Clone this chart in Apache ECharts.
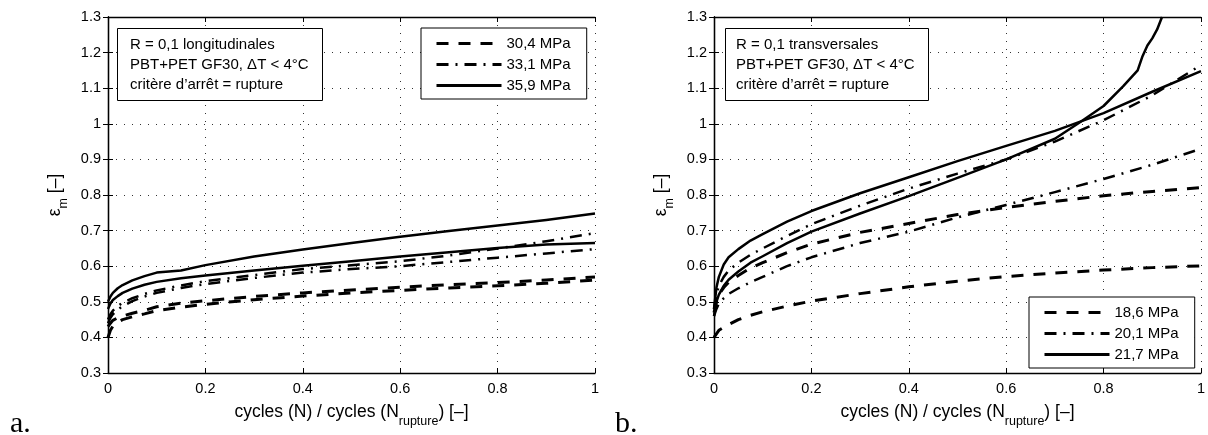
<!DOCTYPE html>
<html>
<head>
<meta charset="utf-8">
<script src="https://cdn.jsdelivr.net/npm/echarts@6/dist/echarts.min.js"></script>
<style>
html,body{margin:0;padding:0;background:#fff;}
#c{width:1208px;height:435px;}
</style>
</head>
<body>
<div id="c"></div>
<script>
// ---------- DATA ----------
const xTicks = [0, 0.2, 0.4, 0.6, 0.8, 1];
const xTickLabels = ['0', '0.2', '0.4', '0.6', '0.8', '1'];
const yTickLabels = ['0.3', '0.4', '0.5', '0.6', '0.7', '0.8', '0.9', '1', '1.1', '1.2', '1.3'];

// panel a (longitudinales)
const legendA = ['30,4 MPa', '33,1 MPa', '35,9 MPa'];
const xA = [0, 0.005, 0.01, 0.02, 0.03, 0.05, 0.075, 0.1, 0.15, 0.2, 0.3, 0.4, 0.5, 0.6, 0.7, 0.8, 0.9, 1.0];
const a304_1 = [0.43, 0.44, 0.448, 0.455, 0.46, 0.468, 0.476, 0.486, 0.496, 0.503, 0.515, 0.525, 0.533, 0.541, 0.548, 0.554, 0.561, 0.570];
const a304_2 = [0.40, 0.42, 0.432, 0.443, 0.45, 0.458, 0.466, 0.475, 0.485, 0.493, 0.506, 0.516, 0.525, 0.532, 0.539, 0.545, 0.552, 0.561];
const a331_1 = [0.45, 0.465, 0.475, 0.488, 0.497, 0.51, 0.522, 0.532, 0.546, 0.558, 0.575, 0.592, 0.603, 0.614, 0.630, 0.650, 0.670, 0.693];
const a331_2 = [0.44, 0.455, 0.465, 0.478, 0.488, 0.502, 0.515, 0.525, 0.539, 0.550, 0.567, 0.582, 0.592, 0.600, 0.612, 0.624, 0.636, 0.648];
const a359_1 = [0.50, 0.515, 0.525, 0.538, 0.547, 0.56, 0.572, 0.582, 0.588, 0.603, 0.627, 0.647, 0.665, 0.683, 0.699, 0.714, 0.730, 0.748];
const a359_2 = [0.48, 0.495, 0.505, 0.516, 0.525, 0.537, 0.548, 0.556, 0.566, 0.574, 0.588, 0.601, 0.614, 0.627, 0.639, 0.651, 0.661, 0.665];

// panel b (transversales)
const legendB = ['18,6 MPa', '20,1 MPa', '21,7 MPa'];
const xB = [0, 0.005, 0.01, 0.02, 0.03, 0.05, 0.075, 0.1, 0.15, 0.2, 0.3, 0.4, 0.5, 0.6, 0.7, 0.8, 0.9, 1.0];
const b186_1 = [0.40, 0.41, 0.42, 0.428, 0.436, 0.45, 0.462, 0.472, 0.488, 0.502, 0.523, 0.542, 0.558, 0.571, 0.581, 0.589, 0.596, 0.601];
const b186_2 = [0.47, 0.50, 0.52, 0.54, 0.555, 0.574, 0.595, 0.61, 0.638, 0.662, 0.695, 0.72, 0.745, 0.765, 0.782, 0.798, 0.81, 0.821];
const b201_1 = [0.48, 0.52, 0.545, 0.57, 0.588, 0.61, 0.632, 0.65, 0.685, 0.718, 0.77, 0.818, 0.86, 0.90, 0.95, 1.01, 1.08, 1.165];
const b201_2 = [0.46, 0.48, 0.495, 0.51, 0.522, 0.538, 0.555, 0.57, 0.60, 0.625, 0.665, 0.697, 0.737, 0.772, 0.808, 0.845, 0.885, 0.93];
const b217_1 = [0.48, 0.54, 0.57, 0.605, 0.625, 0.648, 0.672, 0.69, 0.725, 0.755, 0.805, 0.85, 0.895, 0.938, 0.98, 1.03, 1.09, 1.148];
const xB217_2 = [0, 0.005, 0.01, 0.02, 0.03, 0.05, 0.075, 0.1, 0.15, 0.2, 0.3, 0.4, 0.5, 0.6, 0.7, 0.75, 0.8, 0.84, 0.87, 0.88, 0.89, 0.9, 0.91, 0.92];
const b217_2 = [0.46, 0.50, 0.52, 0.545, 0.562, 0.585, 0.61, 0.628, 0.665, 0.697, 0.748, 0.797, 0.848, 0.90, 0.958, 1.003, 1.05, 1.105, 1.15, 1.19, 1.22, 1.24, 1.265, 1.30];

// ---------- CHART ----------
const FONT = 'Liberation Sans';
const pts = (xs, ys) => xs.map((x, i) => [x, ys[i]]);
const DASH = [12, 10];
const DASHDOT = [12, 7, 2, 7];
const styleOf = [DASH, DASHDOT, 'solid'];

function mkSeries(name, dataPts, kind, axisIdx) {
  return {
    type: 'line', name: name, data: dataPts,
    xAxisIndex: axisIdx, yAxisIndex: axisIdx,
    symbol: 'none', smooth: false,
    lineStyle: { color: '#000', width: kind === 0 ? 3 : 2.5, type: styleOf[kind], cap: 'butt', join: 'round' },
    itemStyle: { color: '#000' },
    z: 3, animation: false
  };
}

const grids = [
  { left: 108, top: 17, width: 487, height: 356 },
  { left: 714, top: 17, width: 487, height: 356 }
];

function mainX(gi) {
  return {
    gridIndex: gi, type: 'value', min: 0, max: 1, interval: 0.2, position: 'bottom',
    axisLine: { lineStyle: { color: '#000', width: 1.3 } },
    axisTick: { inside: true, length: 5, lineStyle: { color: '#000' } },
    axisLabel: { color: '#000', fontFamily: FONT, fontSize: 14.5, margin: 8,
      formatter: v => xTickLabels[Math.round(v / 0.2)] },
    splitLine: { show: true, lineStyle: { color: '#333', width: 1, type: [1, 7] } },
    name: '{n|cycles (N) / cycles (N}{s|rupture}{n|) [–]}',
    nameLocation: 'middle', nameGap: 30,
    nameTextStyle: { color: '#000', fontFamily: FONT, fontSize: 17.5,
      rich: { n: { fontFamily: FONT, fontSize: 17.5, color: '#000', verticalAlign: 'top' },
              s: { fontFamily: FONT, fontSize: 12.5, color: '#000', verticalAlign: 'top', padding: [12, 0, 0, 0] } } }
  };
}
function topX(gi) {
  return {
    gridIndex: gi, type: 'value', min: 0, max: 1, interval: 0.2, position: 'top',
    axisLine: { lineStyle: { color: '#000', width: 1.3 } },
    axisTick: { inside: true, length: 5, lineStyle: { color: '#000' } },
    axisLabel: { show: false }, splitLine: { show: false }
  };
}
function mainY(gi) {
  return {
    gridIndex: gi, type: 'value', min: 0.3, max: 1.3, interval: 0.1, position: 'left',
    axisLine: { show: true, lineStyle: { color: '#000', width: 1.3 } },
    axisTick: { show: true, inside: true, length: 5, lineStyle: { color: '#000' } },
    axisLabel: { color: '#000', fontFamily: FONT, fontSize: 14.5, margin: 7,
      formatter: v => yTickLabels[Math.round((v - 0.3) / 0.1)] },
    splitLine: { show: true, lineStyle: { color: '#333', width: 1, type: [1, 7] } },
    name: '{n|ε}{s|m}{n| [–]}',
    nameLocation: 'middle', nameGap: 38,
    nameTextStyle: { color: '#000', fontFamily: FONT, fontSize: 17.5,
      rich: { n: { fontFamily: FONT, fontSize: 17.5, color: '#000', verticalAlign: 'top' },
              s: { fontFamily: FONT, fontSize: 12.5, color: '#000', verticalAlign: 'top', padding: [11, 0, 0, 0] } } }
  };
}
function rightY(gi) {
  return {
    gridIndex: gi, type: 'value', min: 0.3, max: 1.3, interval: 0.1, position: 'right',
    axisLine: { show: true, lineStyle: { color: '#000', width: 1.3 } },
    axisTick: { show: true, inside: true, length: 5, lineStyle: { color: '#000' } },
    axisLabel: { show: false }, splitLine: { show: false }
  };
}

const legendCommon = {
  orient: 'vertical', itemWidth: 65, itemHeight: 14, itemGap: 6,
  padding: [8, 16, 6, 14], borderColor: '#000', borderWidth: 1, backgroundColor: '#fff',
  textStyle: { color: '#000', fontFamily: FONT, fontSize: 15 },
  lineStyle: { width: 3 },
  itemStyle: { color: 'rgba(0,0,0,0)', borderWidth: 0, opacity: 0 },
  selectedMode: false, z: 10
};

const boxTitle = (text, left, padLeft) => ({
  text: text, left: left, top: 28,
  padding: [7, 14, 6, padLeft], borderColor: '#000', borderWidth: 1, backgroundColor: '#fff',
  textStyle: { color: '#000', fontFamily: FONT, fontSize: 15, fontWeight: 'normal', lineHeight: 20 },
  z: 10
});

const option = {
  animation: false,
  backgroundColor: '#fff',
  grid: grids,
  xAxis: [mainX(0), topX(0), mainX(1), topX(1)],
  yAxis: [mainY(0), rightY(0), mainY(1), rightY(1)],
  title: [
    boxTitle('R = 0,1 longitudinales\nPBT+PET GF30, ΔT < 4°C\ncritère d’arrêt = rupture', 117, 13),
    boxTitle('R = 0,1 transversales\nPBT+PET GF30, ΔT < 4°C\ncritère d’arrêt = rupture', 725, 11)
  ],
  legend: [
    Object.assign({}, legendCommon, { data: legendA, left: 421, top: 28 }),
    Object.assign({}, legendCommon, { data: legendB, left: 1029, top: 297 })
  ],
  series: [
    mkSeries(legendA[0], pts(xA, a304_1), 0, 0),
    mkSeries(legendA[0], pts(xA, a304_2), 0, 0),
    mkSeries(legendA[1], pts(xA, a331_1), 1, 0),
    mkSeries(legendA[1], pts(xA, a331_2), 1, 0),
    mkSeries(legendA[2], pts(xA, a359_1), 2, 0),
    mkSeries(legendA[2], pts(xA, a359_2), 2, 0),
    mkSeries(legendB[0], pts(xB, b186_1), 0, 2),
    mkSeries(legendB[0], pts(xB, b186_2), 0, 2),
    mkSeries(legendB[1], pts(xB, b201_1), 1, 2),
    mkSeries(legendB[1], pts(xB, b201_2), 1, 2),
    mkSeries(legendB[2], pts(xB, b217_1), 2, 2),
    mkSeries(legendB[2], pts(xB217_2, b217_2), 2, 2)
  ],
  graphic: [
    { type: 'text', left: 10, top: 409, style: { text: 'a.', fontFamily: 'Liberation Serif', fontSize: 30, fill: '#000' } },
    { type: 'text', left: 615, top: 409, style: { text: 'b.', fontFamily: 'Liberation Serif', fontSize: 30, fill: '#000' } }
  ]
};

const chart = echarts.init(document.getElementById('c'), null, { renderer: 'canvas' });
chart.setOption(option);
</script>
</body>
</html>
